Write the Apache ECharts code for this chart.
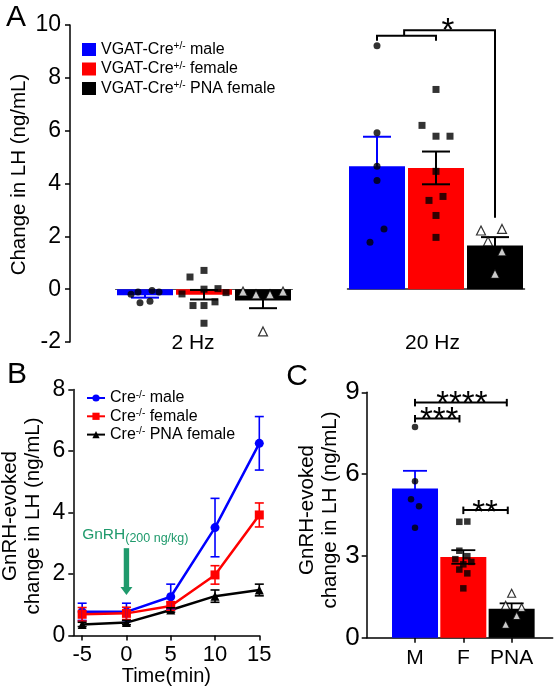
<!DOCTYPE html>
<html><head><meta charset="utf-8">
<script src="https://cdn.jsdelivr.net/npm/echarts@6/dist/echarts.min.js"></script>
<style>html,body{margin:0;padding:0;background:#fff}#c{width:555px;height:690px}</style>
</head><body><div id="c"></div>
<script>
// ================= DATA =================
// Panel A
const groupNamesA = ['VGAT-Cre+/- male', 'VGAT-Cre+/- female', 'VGAT-Cre+/- PNA female'];
const conditionsA = ['2 Hz', '20 Hz'];
const meanA_2Hz = [-0.23, -0.21, -0.43];
const semA_2Hz = [0.09, 0.18, 0.29];
const meanA_20Hz = [4.65, 4.59, 1.65];
const semA_20Hz = [1.12, 0.62, 0.32];
const ptsA_2Hz_male = [-0.19, -0.11, -0.05, -0.11, -0.51, -0.46];
const ptsA_2Hz_female = [0.46, 0.71, -0.18, 0.0, 0.02, -0.13, -0.62, -0.62, -0.48, -1.29];
const ptsA_2Hz_pna = [-0.09, -0.2, -0.2, -0.09, -1.6];
const ptsA_20Hz_male = [9.21, 5.92, 4.65, 4.11, 2.28, 1.78];
const ptsA_20Hz_female = [7.56, 6.2, 5.79, 5.79, 4.46, 3.36, 3.51, 2.79, 1.96];
const ptsA_20Hz_pna = [2.22, 2.28, 1.81, 1.43, 0.58];
const ticksA = [-2, 0, 2, 4, 6, 8, 10];

// Panel B
const namesB = ['Cre-/- male', 'Cre-/- female', 'Cre-/- PNA female'];
const timeB = [-5, 0, 5, 10, 15];
const meanB_male = [0.77, 0.77, 1.26, 3.51, 6.25];
const semB_male = [0.28, 0.28, 0.41, 0.95, 0.87];
const meanB_female = [0.69, 0.72, 0.96, 1.97, 3.92];
const semB_female = [0.22, 0.2, 0.14, 0.3, 0.39];
const meanB_pna = [0.36, 0.42, 0.83, 1.28, 1.48];
const semB_pna = [0.07, 0.07, 0.07, 0.2, 0.19];
const ticksBx = [-5, 0, 5, 10, 15];
const ticksBy = [0, 2, 4, 6, 8];

// Panel C
const catsC = ['M', 'F', 'PNA'];
const meanC = [5.47, 2.96, 1.06];
const semC = [0.65, 0.25, 0.2];
const ptsC_M = [7.73, 5.74, 5.08, 4.82, 4.03];
const ptsC_F = [4.25, 4.26, 3.19, 2.88, 2.99, 2.78, 2.69, 2.5, 2.36, 1.81];
const ptsC_PNA = [1.63, 1.19, 1.1, 0.81, 0.49];
const ticksCy = [0, 3, 6, 9];

// ================= PRESENTATION =================
const FONT = '"Liberation Sans", Arial, Helvetica, sans-serif';
const BLUE = '#0000ff', RED = '#ff0000', BLACK = '#000000';
const colors = [BLUE, RED, BLACK];
const errColors = [BLUE, BLACK, BLACK];
const symbols = ['circle', 'rect', 'triangle'];
// horizontal jitter of individual points (pixels)
const jitA2 = [[-14, -7, 7, 14, -5, 5], [-14, 0, -22, 0, 14, 22, -11, 0, 11, 0], [-20, -7, 7, 20, 0]];
const jitA20 = [[0, 0, 0, 0, 7, -7], [0, -14, 0, 14, 0, -7, 7, 0, 0], [-14, 7, -7, 7, 0]];
const jitC = [[0, 0, -4, 4, 0], [-4, 4, -4, -8, 4, 8, 0, -4, 4, 0], [0, -6, 10, 5, -6]];

// significance annotations (data coordinates)
const bracketA = { lines: [[[1, 9.4], [1, 9.59], [2, 9.59], [2, 9.4]], [[1.46, 9.59], [1.46, 9.8], [3, 9.8], [3, 2.7]]],
                   stars: [[2.2, 10.07, '*']] };
const bracketC = { bars: [[1, 2.9, 8.63], [1, 1.92, 8.04], [2, 2.92, 4.68]],
                   stars: [[1.97, 8.85, '****'], [1.5, 8.27, '***'], [2.45, 4.86, '**']] };

function supName(n) { return n.replace(/(\+\/-|-\/-)/, '{sup|$1}'); }

function errSeries(xi, yi, means, sems, positions, capW, lw, cols) {
  return {
    type: 'custom', xAxisIndex: xi, yAxisIndex: yi, z: 4, silent: true,
    encode: { x: 0, y: 1 },
    data: means.map((m, i) => [positions[i], m, sems[i], i]),
    renderItem: function (params, api) {
      const x = api.value(0), m = api.value(1), s = api.value(2), ci = api.value(3);
      const t = api.coord([x, m + s]), b = api.coord([x, m - s]);
      const hw = capW / 2, st = { stroke: cols[ci], lineWidth: lw };
      return { type: 'group', children: [
        { type: 'line', shape: { x1: t[0], y1: t[1], x2: b[0], y2: b[1] }, style: st },
        { type: 'line', shape: { x1: t[0] - hw, y1: t[1], x2: t[0] + hw, y2: t[1] }, style: st },
        { type: 'line', shape: { x1: b[0] - hw, y1: b[1], x2: b[0] + hw, y2: b[1] }, style: st }
      ] };
    }
  };
}

function scatterSeries(xi, yi, pos, vals, jit, g, size) {
  return {
    type: 'scatter', xAxisIndex: xi, yAxisIndex: yi, symbol: symbols[g], symbolSize: size, z: 5, silent: true,
    itemStyle: g === 2 ? { color: '#fff', borderColor: '#000', borderWidth: 1.2 } : { color: '#000' },
    data: vals.map((v, i) => ({ value: [pos, v], symbolOffset: [jit[i], 0] }))
  };
}

function txtStyle(txt, size) {
  return { text: txt, fill: '#000', fontSize: size, fontFamily: FONT,
           align: 'center', verticalAlign: 'middle', textAlign: 'center', textVerticalAlign: 'middle' };
}

const series = [];
// ---- Panel A bars ----
[meanA_2Hz, meanA_20Hz].forEach((means, gi) => {
  means.forEach((m, g) => {
    series.push({ type: 'bar', name: groupNamesA[g], xAxisIndex: gi, yAxisIndex: gi, barWidth: 56, barGap: '-100%',
      itemStyle: { color: colors[g] }, z: 2, data: [[g + 1, m]] });
  });
});
series.push(errSeries(0, 0, meanA_2Hz, semA_2Hz, [1, 2, 3], 28, 2, errColors));
series.push(errSeries(1, 1, meanA_20Hz, semA_20Hz, [1, 2, 3], 28, 2, errColors));
[ptsA_2Hz_male, ptsA_2Hz_female, ptsA_2Hz_pna].forEach((p, g) => series.push(scatterSeries(0, 0, g + 1, p, jitA2[g], g, g === 2 ? 9 : 7)));
[ptsA_20Hz_male, ptsA_20Hz_female, ptsA_20Hz_pna].forEach((p, g) => series.push(scatterSeries(1, 1, g + 1, p, jitA20[g], g, g === 2 ? 9 : 7)));
series.push({
  type: 'custom', xAxisIndex: 1, yAxisIndex: 1, silent: true, z: 6, data: [[1, 5]],
  renderItem: function (params, api) {
    const ch = bracketA.lines.map(l => ({ type: 'polyline', shape: { points: l.map(p => api.coord(p)) },
      style: { stroke: '#000', lineWidth: 2, fill: null } }));
    bracketA.stars.forEach(s => { const c = api.coord([s[0], s[1]]);
      ch.push({ type: 'text', x: c[0], y: c[1] + 9, style: txtStyle(s[2], 33) }); });
    return { type: 'group', children: ch };
  }
});

// ---- Panel B ----
const meansB = [meanB_male, meanB_female, meanB_pna];
const semsB = [semB_male, semB_female, semB_pna];
meansB.forEach((m, g) => {
  series.push({ type: 'line', name: namesB[g], xAxisIndex: 2, yAxisIndex: 2, symbol: symbols[g], symbolSize: 9,
    lineStyle: { color: colors[g], width: 2.5 }, itemStyle: { color: colors[g] }, z: 3,
    data: timeB.map((t, i) => [t, m[i]]) });
  series.push(errSeries(2, 2, m, semsB[g], timeB, 9, 1.6, [colors[g], colors[g], colors[g], colors[g], colors[g]]));
});
series.push({
  type: 'custom', xAxisIndex: 2, yAxisIndex: 2, silent: true, z: 6, data: [[0, 2.84, 1.32]],
  renderItem: function (params, api) {
    const top = api.coord([api.value(0), api.value(1)]);
    const tip = api.coord([api.value(0), api.value(2)]);
    const G = '#1f9a6c';
    const lbl = api.coord([-5, 3.25]);
    return { type: 'group', children: [
      { type: 'rect', shape: { x: top[0] - 2.7, y: top[1], width: 5.4, height: tip[1] - top[1] - 7 }, style: { fill: G } },
      { type: 'polygon', shape: { points: [[tip[0] - 6, tip[1] - 8], [tip[0] + 6, tip[1] - 8], [tip[0], tip[1]]] }, style: { fill: G } },
      { type: 'text', x: lbl[0], y: lbl[1], style: { text: '{a|GnRH}{b|(200 ng/kg)}', fill: G,
          align: 'left', verticalAlign: 'middle', textAlign: 'left', textVerticalAlign: 'middle',
          rich: { a: { fontSize: 15.5, fontFamily: FONT, fill: G, lineHeight: 18, verticalAlign: 'top' },
                  b: { fontSize: 12.5, fontFamily: FONT, fill: G, lineHeight: 14, verticalAlign: 'bottom' } } } }
    ] };
  }
});

// ---- Panel C ----
series.push({ type: 'bar', name: 'C bars', xAxisIndex: 3, yAxisIndex: 3, barWidth: 46, z: 2,
  data: meanC.map((v, i) => ({ value: [i + 1, v], itemStyle: { color: colors[i] } })) });
series.push(errSeries(3, 3, meanC, semC, [1, 2, 3], 24, 1.8, errColors));
[ptsC_M, ptsC_F, ptsC_PNA].forEach((p, g) => series.push(scatterSeries(3, 3, g + 1, p, jitC[g], g, g === 2 ? 8 : 6.5)));
series.push({
  type: 'custom', xAxisIndex: 3, yAxisIndex: 3, silent: true, z: 6, data: [[1, 5]],
  renderItem: function (params, api) {
    const ch = [];
    const st = { stroke: '#000', lineWidth: 2 };
    bracketC.bars.forEach(b => {
      const l = api.coord([b[0], b[2]]), r = api.coord([b[1], b[2]]);
      ch.push({ type: 'line', shape: { x1: l[0], y1: l[1], x2: r[0], y2: r[1] }, style: st });
      ch.push({ type: 'line', shape: { x1: l[0], y1: l[1] - 3.5, x2: l[0], y2: l[1] + 4 }, style: st });
      ch.push({ type: 'line', shape: { x1: r[0], y1: r[1] - 3.5, x2: r[0], y2: r[1] + 4 }, style: st });
    });
    bracketC.stars.forEach(s => { const c = api.coord([s[0], s[1]]);
      ch.push({ type: 'text', x: c[0], y: c[1] + 9, style: txtStyle(s[2], 33) }); });
    return { type: 'group', children: ch };
  }
});

const axLine = { show: true, onZero: false, lineStyle: { color: '#000', width: 1.5 } };
const axTick = { show: true, length: 5, inside: false, lineStyle: { color: '#000', width: 1.5 } };
const noSplit = { show: false };

const option = {
  animation: false,
  backgroundColor: '#fff',
  textStyle: { fontFamily: FONT },
  grid: [
    { left: 115.5, top: 25, width: 177, height: 317, outerBoundsMode: 'none' },
    { left: 347.5, top: 25, width: 177, height: 317, outerBoundsMode: 'none' },
    { left: 73.3, top: 389.5, width: 186, height: 246, outerBoundsMode: 'none' },
    { left: 366.7, top: 392.3, width: 186, height: 245.4, outerBoundsMode: 'none' }
  ],
  xAxis: [
    { gridIndex: 0, type: 'value', min: 0.5, max: 3.5, axisLine: { show: true, onZero: true, lineStyle: { color: '#555', width: 1 } },
      axisTick: { show: false }, axisLabel: { show: false }, splitLine: noSplit },
    { gridIndex: 1, type: 'value', min: 0.5, max: 3.5, axisLine: { show: true, onZero: true, lineStyle: { color: '#222', width: 1.5 } },
      axisTick: { show: false }, axisLabel: { show: false }, splitLine: noSplit },
    { gridIndex: 2, type: 'value', min: -6, max: 15, axisLine: axLine,
      axisTick: Object.assign({ customValues: ticksBx }, axTick),
      axisLabel: { customValues: ticksBx, fontSize: 22, color: '#000', margin: 8, fontFamily: FONT },
      splitLine: noSplit, name: 'Time(min)', nameLocation: 'middle', nameGap: 31,
      nameTextStyle: { fontSize: 20, color: '#000', fontFamily: FONT } },
    { gridIndex: 3, type: 'value', min: 0, max: 3.85, axisLine: axLine,
      axisTick: Object.assign({ customValues: [1, 2, 3] }, axTick),
      axisLabel: { customValues: [1, 2, 3], formatter: v => catsC[Math.round(v) - 1], fontSize: 21, color: '#000', margin: 10, fontFamily: FONT },
      splitLine: noSplit }
  ],
  yAxis: [
    { gridIndex: 0, type: 'value', min: ticksA[0], max: ticksA[ticksA.length - 1], interval: 2, offset: 45.5,
      axisLine: axLine, axisTick: axTick, splitLine: noSplit,
      axisLabel: { fontSize: 23, color: '#000', margin: 9, fontFamily: FONT } },
    { gridIndex: 1, type: 'value', min: ticksA[0], max: ticksA[ticksA.length - 1], interval: 2, show: false },
    { gridIndex: 2, type: 'value', min: ticksBy[0], max: ticksBy[ticksBy.length - 1], interval: 2,
      axisLine: axLine, axisTick: axTick, splitLine: noSplit,
      axisLabel: { fontSize: 23, color: '#000', margin: 8, fontFamily: FONT } },
    { gridIndex: 3, type: 'value', min: ticksCy[0], max: ticksCy[ticksCy.length - 1], interval: 3,
      axisLine: axLine, axisTick: axTick, splitLine: noSplit,
      axisLabel: { fontSize: 26, color: '#000', margin: 7, fontFamily: FONT } }
  ],
  legend: [
    { data: groupNamesA, orient: 'vertical', left: 77, top: 36.5, icon: 'rect', itemWidth: 14, itemHeight: 13, itemGap: 3.5,
      selectedMode: false, formatter: supName,
      textStyle: { fontSize: 16, color: '#000', fontFamily: FONT, lineHeight: 16,
        rich: { sup: { fontSize: 10, lineHeight: 10, verticalAlign: 'top', color: '#000', fontFamily: FONT } } } },
    { data: namesB, orient: 'vertical', left: 81, top: 385, itemWidth: 18, itemHeight: 9, itemGap: 2.3,
      selectedMode: false, formatter: supName,
      textStyle: { fontSize: 16, color: '#000', fontFamily: FONT, lineHeight: 16,
        rich: { sup: { fontSize: 10, lineHeight: 10, verticalAlign: 'top', color: '#000', fontFamily: FONT } } } }
  ],
  graphic: [
    { type: 'text', x: 16, y: 18, style: txtStyle('A', 30) },
    { type: 'text', x: 17, y: 375, style: txtStyle('B', 30) },
    { type: 'text', x: 297, y: 377, style: txtStyle('C', 30) },
    { type: 'text', x: 193, y: 343, style: txtStyle(conditionsA[0], 21) },
    { type: 'text', x: 432.5, y: 343, style: txtStyle(conditionsA[1], 21) },
    { type: 'text', x: 19.5, y: 174.5, rotation: Math.PI / 2, style: txtStyle('Change in LH (ng/mL)', 20.5) },
    { type: 'text', x: 22, y: 516, rotation: Math.PI / 2, style: Object.assign(txtStyle('GnRH-evoked\nchange in LH (ng/mL)', 20.5), { lineHeight: 23 }) },
    { type: 'text', x: 318.5, y: 510, rotation: Math.PI / 2, style: Object.assign(txtStyle('GnRH-evoked\nchange in LH (ng/mL)', 20.5), { lineHeight: 23 }) }
  ],
  series: series
};

const chart = echarts.init(document.getElementById('c'), null, { renderer: 'canvas', width: 555, height: 690 });
chart.setOption(option);
</script>
</body></html>
